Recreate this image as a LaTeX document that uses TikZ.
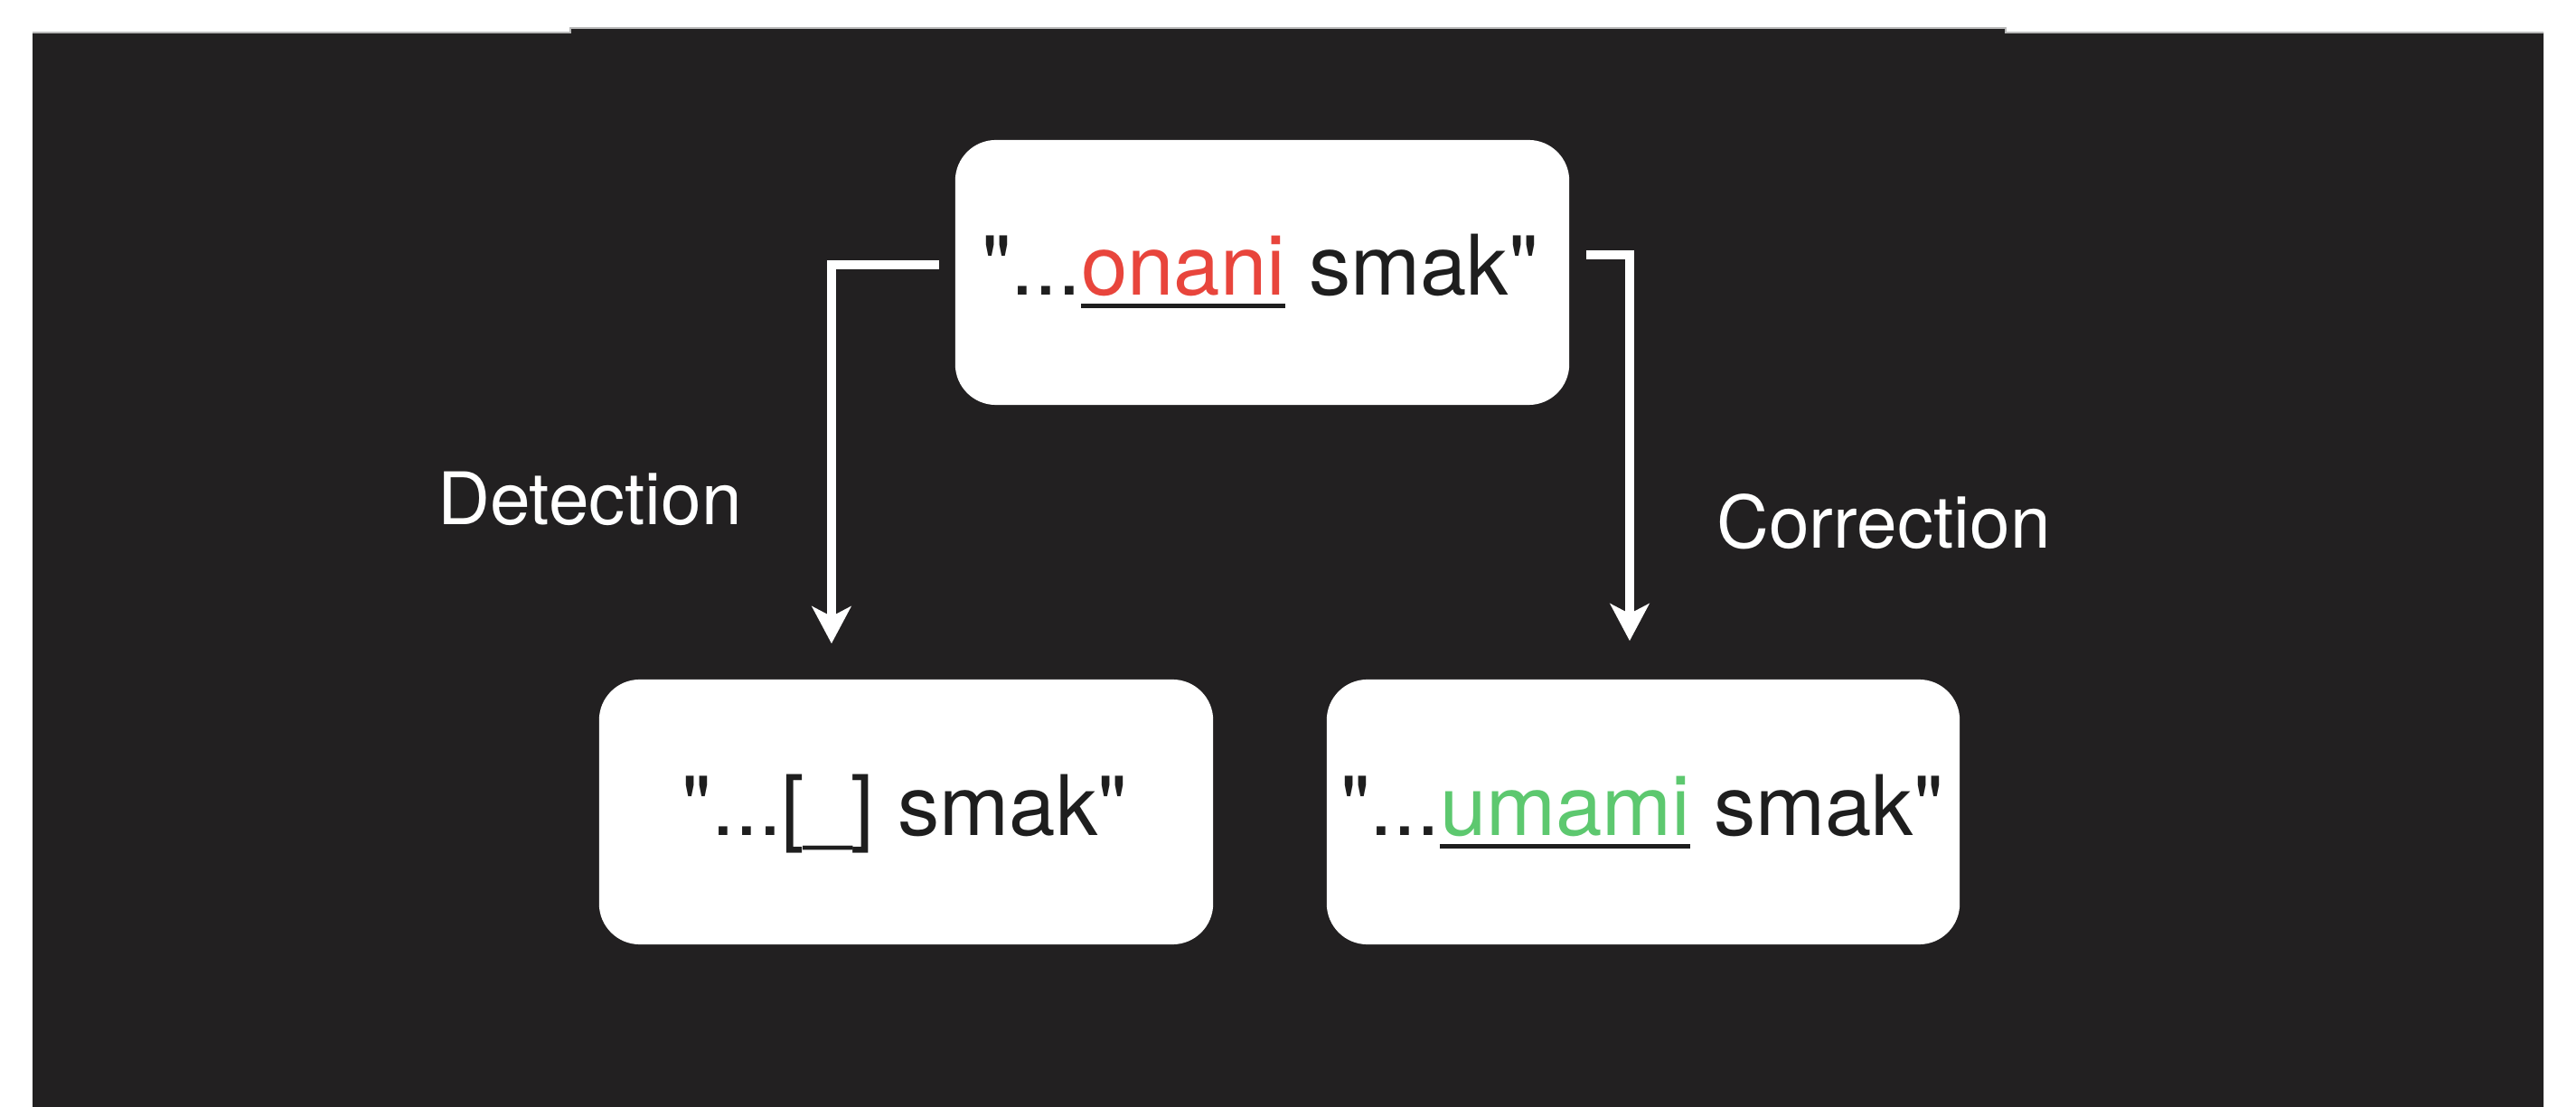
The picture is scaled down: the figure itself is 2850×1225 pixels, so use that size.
\documentclass[tikz,border=0pt]{standalone}
\usepackage{fontspec}
\setmainfont{TeX Gyre Heros}[Ligatures=TeXOff]
\usetikzlibrary{arrows.meta}
\definecolor{bgdark}{HTML}{222021}
\definecolor{txtdark}{HTML}{1E1E1E}
\definecolor{wrongred}{HTML}{E8453C}
\definecolor{rightgreen}{HTML}{5DC86F}
\newcommand\ulword[2]{\setbox0\hbox{#2}\rlap{\color{txtdark}\rule[-0.15em]{\wd0}{1.3pt}}{\color{#1}\box0}}
\tikzset{
  boxnode/.style={fill=white, draw=none, rounded corners=0.45cm, minimum height=2.93cm, inner sep=0pt},
  boxtext/.style={anchor=base, inner sep=0pt, text=txtdark, font=\fontsize{26.3}{30}\selectfont},
  lbl/.style={anchor=base, inner sep=0pt, text=white, font=\fontsize{22.8}{26}\selectfont},
  conn/.style={draw=white, line width=0.1cm, line cap=butt, line join=miter,
    -{Stealth[length=0.41cm, width=0.43cm, inset=0.11cm]}}
}
\begin{document}
\begin{tikzpicture}[x=0.01cm, y=-0.01cm]
\fill[white] (0,0) rectangle (2850,1225);
\useasboundingbox (0,0) rectangle (2850,1225);
\fill[bgdark] (36,1225) -- (36,36) -- (631,36) -- (631,31) -- (2219,31) -- (2219,36) -- (2814,36) -- (2814,1225) -- cycle;
\draw[gray!55, line width=0.4pt] (36,36) -- (631,36) -- (631,31) -- (2219,31) -- (2219,36) -- (2814,36);

\node[boxnode, minimum width=6.79cm] (top) at (1396.5,301.5) {};
\node[boxnode, minimum width=6.79cm] (det) at (1002.5,898.5) {};
\node[boxnode, minimum width=7.00cm] (cor) at (1818,898.5) {};

\node[boxtext] (toptext) at (1394,327) {"...\ulword{wrongred}{onani} smak"};
\node[boxtext] (dettext) at (1001,925) {"...[\_] smak"};
\node[boxtext] (cortext) at (1816.5,925) {"...\ulword{rightgreen}{umami} smak"};

\node[lbl] (detlbl) at (652.5,581) {Detection};
\node[lbl] (corlbl) at (2084,607) {Correction};

\draw[conn, shorten <=0.17cm, shorten >=0.39cm] ([yshift=0.08cm]top.west) -| ([xshift=-0.825cm]det.north);
\draw[conn, shorten <=0.18cm, shorten >=0.42cm] ([yshift=0.195cm]top.east) -| ([xshift=-0.15cm]cor.north);
\end{tikzpicture}
\end{document}
